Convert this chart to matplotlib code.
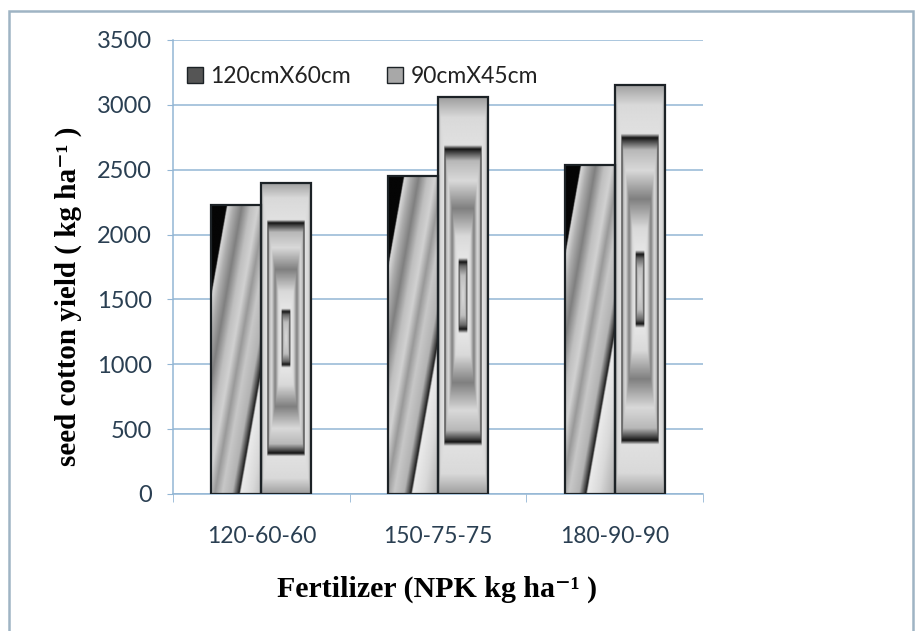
import numpy as np
import matplotlib
matplotlib.use('Agg')
import matplotlib.pyplot as plt
from matplotlib.patches import Patch, Rectangle

categories = ['120-60-60', '150-75-75', '180-90-90']
series_names = ['120cmX60cm', '90cmX45cm']
yield_120x60 = [2225, 2450, 2540]
yield_90x45 = [2400, 3060, 3155]
y_ticks = [0, 500, 1000, 1500, 2000, 2500, 3000, 3500]

GRID = '#93b6d4'
TICK_TXT = '#2a3f52'
EDGE = '#1c2226'
SERIF = ['Liberation Serif', 'DejaVu Serif']

# gray levels along the gradients (position, level)
diag_pos = [0.0, 0.31, 0.33, 0.45, 0.62, 0.80, 0.95, 1.10, 1.25, 1.45, 1.56, 1.59, 1.62, 1.85, 2.2, 2.6]
diag_val = [0.02, 0.02, 0.85, 0.68, 0.50, 0.75, 0.82, 0.60, 0.78, 0.70, 0.25, 0.10, 0.92, 0.85, 0.65, 0.58]
ring_pos = [0.0, 0.10, 0.15, 0.17, 0.19, 0.30, 0.44, 0.58, 0.68, 0.72, 0.74, 0.76, 0.90, 1.0]
ring_val = [0.85, 0.75, 0.40, 0.08, 0.90, 0.85, 0.50, 0.85, 0.72, 0.30, 0.08, 0.88, 0.85, 0.62]


def diagonal_fill(ax, bar):
    x0, w, top = bar.get_x(), bar.get_width(), bar.get_height()
    U, Y = np.meshgrid(np.linspace(0, 1, 80), np.linspace(0, top, 400))
    p = U + (top - Y) * 0.000462
    img = np.interp(p, diag_pos, diag_val)
    im = ax.imshow(img, extent=[x0, x0 + w, 0, top], origin='lower', cmap='gray',
                   vmin=0, vmax=1, aspect='auto', interpolation='bilinear', zorder=2)
    im.set_clip_path(bar)


def ring_fill(ax, bar):
    x0, w, top = bar.get_x(), bar.get_width(), bar.get_height()
    U, V = np.meshgrid(np.linspace(-1, 1, 80), np.linspace(-1, 1, 400))
    d = np.maximum(np.abs(U), np.abs(V))
    img = np.interp(d, ring_pos, ring_val)
    im = ax.imshow(img, extent=[x0, x0 + w, 0, top], origin='lower', cmap='gray',
                   vmin=0, vmax=1, aspect='auto', interpolation='bilinear', zorder=2)
    im.set_clip_path(bar)


fig = plt.figure(figsize=(9.15, 6.31), dpi=100)
ax = fig.add_axes([173 / 915, 1 - 494 / 631, 530 / 915, 454 / 631])

x = np.arange(len(categories))
bw = 0.283
bars1 = ax.bar(x - bw / 2, yield_120x60, bw, facecolor='none', edgecolor=EDGE, linewidth=1.6, zorder=3)
bars2 = ax.bar(x + bw / 2, yield_90x45, bw, facecolor='none', edgecolor=EDGE, linewidth=1.6, zorder=3)
for b in bars1:
    diagonal_fill(ax, b)
for b in bars2:
    ring_fill(ax, b)

ax.set_xlim(-0.5, 2.5)
ax.set_ylim(0, 3500)
ax.set_yticks(y_ticks)
ax.set_xticks(x)
ax.set_xticklabels(categories)
ax.set_xticks([-0.5, 0.5, 1.5, 2.5], minor=True)
ax.yaxis.grid(True, color=GRID, linewidth=1.1)
ax.set_axisbelow(True)

for s in ['top', 'right']:
    ax.spines[s].set_visible(False)
for s in ['left', 'bottom']:
    ax.spines[s].set_color(GRID)
    ax.spines[s].set_linewidth(1.1)

ax.tick_params(axis='y', length=4, color=GRID, labelsize=17, labelcolor=TICK_TXT, pad=11)
ax.tick_params(axis='x', which='major', length=0, labelsize=16.5, labelcolor=TICK_TXT, pad=23)
ax.tick_params(axis='x', which='minor', length=6, color=GRID)
for lbl in ax.get_xticklabels() + ax.get_yticklabels():
    lbl.set_family('Lato')

handles = [Patch(facecolor='#555555', edgecolor=EDGE), Patch(facecolor='#a8a8a8', edgecolor=EDGE)]
ax.legend(handles, series_names, loc='upper left', bbox_to_anchor=(0.005, 0.968), ncol=2,
          frameon=False, prop={'family': 'Lato', 'size': 16.5}, handlelength=0.7,
          handleheight=0.7, handletextpad=0.3, columnspacing=1.6, borderpad=0,
          labelcolor='#222222')

fig.text(68 / 915, 1 - 296 / 631, 'seed cotton yield ( kg ha\u207b\u00b9 )', rotation=90,
         ha='center', va='center', family=SERIF, weight='bold', size=21)
fig.text(437 / 915, 1 - 589 / 631, 'Fertilizer (NPK kg ha\u207b\u00b9 )',
         ha='center', va='center', family=SERIF, weight='bold', size=21.5)

fig.patches.append(Rectangle((9 / 915, -0.02), 904 / 915, 1 - 11 / 631 + 0.02,
                             transform=fig.transFigure, fill=False, edgecolor='#9fb4c4',
                             linewidth=1.8))

fig.savefig('out.png', dpi=100)
